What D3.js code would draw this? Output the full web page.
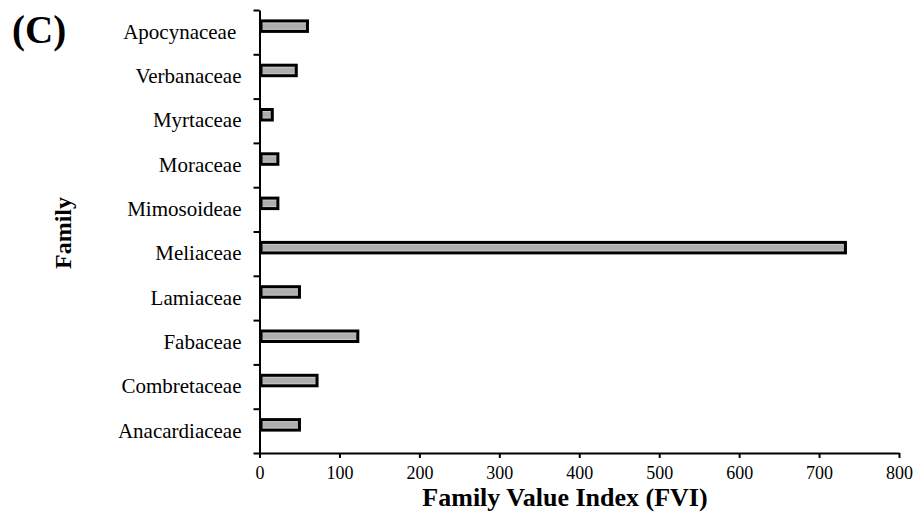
<!DOCTYPE html>
<html>
<head>
<meta charset="utf-8">
<script src="https://cdn.jsdelivr.net/npm/d3@7"></script>
<style>
  html, body { margin: 0; padding: 0; background: #fff; }
  svg { display: block; }
  text { font-family: "Liberation Serif", "Times New Roman", serif; fill: #000; }
</style>
</head>
<body>
<svg id="chart" width="914" height="517"></svg>
<script>
// Plant families, top to bottom
const families = [
  "Apocynaceae ", "Verbanaceae", "Myrtaceae", "Moraceae", "Mimosoideae",
  "Meliaceae", "Lamiaceae", "Fabaceae", "Combretaceae", "Anacardiaceae"
];
// Family Value Index for each family
const fviValues = [60, 46, 16, 23, 23, 733, 50, 123, 72, 50];
const xTicks = [0, 100, 200, 300, 400, 500, 600, 700, 800];

const svg = d3.select("#chart");
const W = 914, H = 517;
const plotLeft = 259.5, plotRight = 899, plotTop = 10, plotBottom = 453;

svg.append("rect").attr("width", W).attr("height", H).attr("fill", "#fff");

const x = d3.scaleLinear().domain([0, 800]).range([plotLeft, plotRight]);
const y = d3.scaleBand().domain(families).range([plotTop, plotBottom]).paddingInner(0).paddingOuter(0);
// boundary scale for the category separator ticks
const yEdge = d3.scaleLinear().domain([0, families.length]).range([plotTop, plotBottom]);

// bar fill: light rim with a mid-grey core
const defs = svg.append("defs");
const grad = defs.append("linearGradient").attr("id", "barFill")
  .attr("x1", 0).attr("y1", 0).attr("x2", 0).attr("y2", 1);
[[0, "#f4f4f4"], [0.3, "#aeaeae"], [0.7, "#aeaeae"], [1, "#f4f4f4"]].forEach(([o, c]) =>
  grad.append("stop").attr("offset", o).attr("stop-color", c));

const data = families.map((f, i) => ({ family: f, value: fviValues[i] }));

// bars
const barH = 10.5;
svg.append("g").selectAll("rect").data(data).join("rect")
  .attr("x", x(0) + 1.5)
  .attr("y", d => y(d.family) + y.bandwidth() / 2 - 6 - barH / 2)
  .attr("width", d => x(d.value) - x(0) - 1.5)
  .attr("height", barH)
  .attr("fill", "url(#barFill)")
  .attr("stroke", "#000")
  .attr("stroke-width", 3);

// x axis
const xAxis = svg.append("g").attr("transform", `translate(0,${plotBottom})`)
  .call(d3.axisBottom(x).tickValues(xTicks).tickSize(5).tickSizeOuter(0).tickPadding(8));
xAxis.select(".domain").attr("stroke", "#000").attr("stroke-width", 2);
xAxis.selectAll(".tick line").attr("stroke", "#000").attr("stroke-width", 2);
xAxis.selectAll(".tick text").attr("font-size", 18)
  .attr("font-family", "Liberation Serif, Times New Roman, serif");

// y axis separators
const yTickAxis = svg.append("g").attr("transform", `translate(${plotLeft},0)`)
  .call(d3.axisLeft(yEdge).tickValues(d3.range(0, families.length + 1)).tickSize(6).tickSizeOuter(0).tickFormat(""));
yTickAxis.select(".domain").attr("stroke", "#000").attr("stroke-width", 2);
yTickAxis.selectAll(".tick line").attr("stroke", "#000").attr("stroke-width", 2);

// y axis category labels
const yLab = svg.append("g").attr("transform", `translate(${plotLeft},0)`)
  .call(d3.axisLeft(y).tickSize(0).tickPadding(18));
yLab.select(".domain").remove();
yLab.selectAll(".tick text").attr("font-size", 21)
  .attr("font-family", "Liberation Serif, Times New Roman, serif")
  .style("white-space", "pre");

// axis titles
svg.append("text").attr("x", 565).attr("y", 506).attr("text-anchor", "middle")
  .attr("font-size", 26).attr("font-weight", "bold").text("Family Value Index (FVI)");
svg.append("text").attr("transform", "translate(71,233) rotate(-90)").attr("text-anchor", "middle")
  .attr("font-size", 24).attr("font-weight", "bold").text("Family");

// panel letter
svg.append("text").attr("x", 12).attr("y", 43)
  .attr("font-size", 39).attr("font-weight", "bold").text("(C)");
</script>
</body>
</html>
